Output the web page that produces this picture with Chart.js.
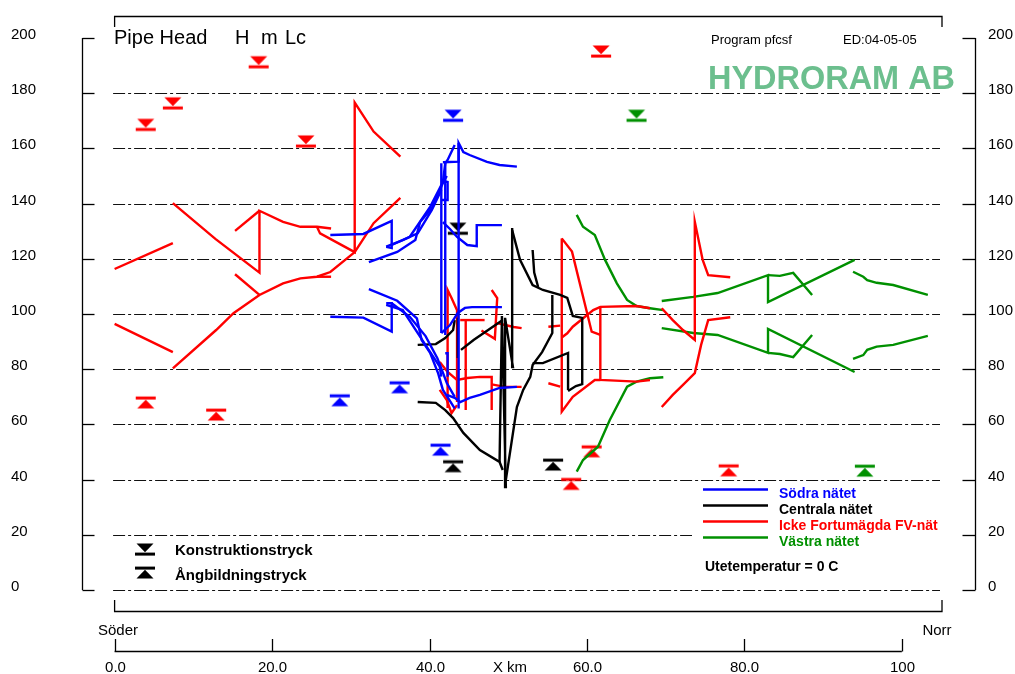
<!DOCTYPE html>
<html>
<head>
<meta charset="utf-8">
<script src="https://cdn.jsdelivr.net/npm/chart.js@4/dist/chart.umd.min.js"></script>
<style>
html,body{margin:0;padding:0;background:#fff;}
#wrap{width:1015px;height:674px;position:relative;}
canvas{display:block;}
</style>
</head>
<body>
<div id="wrap"><canvas id="c" width="1015" height="674"></canvas></div>
<script>
// ---------- axis ticks ----------
const xTicks = [0, 20, 40, 60, 80, 100];
const xTickLabels = ['0.0', '20.0', '40.0', '60.0', '80.0', '100'];
const yTicks = [0, 20, 40, 60, 80, 100, 120, 140, 160, 180, 200];
const yGridValues = [0, 20, 40, 60, 80, 100, 120, 140, 160, 180];

// ---------- series (x = km, y = m Lc) ----------
const sodraLines = [
  [[27.4,128.6],[31.6,129.0],[35.2,133.7],[35.2,123.9],[34.5,124.3]],
  [[32.3,118.8],[35.9,122.5],[38.2,126.8],[38.8,133.3],[40.3,138.4],[41.7,147.5],[42.2,150.0]],
  [[34.5,124.4],[36.6,126.8],[38.5,129.2],[40.3,137.7],[41.5,144.9]],
  [[35.2,125.0],[37.5,128.0],[40.1,138.9],[41.7,147.8],[42.0,154.6],[42.3,155.8],[43.2,161.2]],
  [[41.7,155.0],[43.7,155.2],[43.7,162.0],[44.3,158.7],[45.1,157.6],[47.3,155.1],[48.9,154.0],[51.1,153.4]],
  [[41.5,141.3],[42.3,141.3],[42.3,147.8],[41.7,148.2]],
  [[41.7,133.3],[42.6,130.8],[43.5,127.9],[44.8,125.0],[46.0,124.6],[46.0,132.2],[49.2,132.2]],
  [[41.5,154.6],[41.5,93.1]],
  [[42.0,154.6],[42.0,92.4]],
  [[43.7,162.0],[43.7,65.8]],
  [[27.4,99.0],[31.6,98.7],[35.2,93.6],[35.2,103.9],[34.5,103.9]],
  [[32.3,109.0],[35.9,104.8],[38.4,98.4],[39.0,90.6],[40.1,85.8],[41.1,78.5],[41.7,72.5],[43.2,65.8]],
  [[34.5,103.3],[36.6,101.4],[38.8,91.8],[41.3,80.9],[41.5,77.3]],
  [[35.2,103.9],[37.5,99.0],[39.5,92.0],[41.0,84.0],[42.2,75.0],[43.2,70.0]],
  [[41.5,93.1],[42.6,96.0],[43.6,100.4],[44.5,102.2],[45.4,102.5],[49.2,102.5]],
  [[42.0,85.8],[42.3,85.8],[42.3,77.3]],
  [[42.2,70.7],[43.2,69.6],[43.9,68.1],[45.1,69.6],[46.4,70.7],[48.9,73.2],[51.1,73.6]]
];
const centralaLines = [
  [[38.5,88.8],[40.8,89.1],[42.0,91.3],[43.0,94.2],[43.2,97.8]],
  [[43.6,98.6],[43.6,84.1]],
  [[44.0,87.0],[45.6,90.6],[49.3,97.8]],
  [[38.5,68.1],[40.8,67.8],[42.0,65.2],[43.0,62.3],[44.3,56.9],[46.4,50.7],[48.9,46.4],[49.3,43.5]],
  [[48.9,46.4],[49.2,99.3],[49.7,37.3],[49.6,98.6],[50.6,80.8],[50.5,131.2]],
  [[50.5,130.4],[51.5,119.6],[53.1,110.5],[54.4,108.7],[56.6,106.9],[57.5,105.8],[58.2,99.3],[59.4,98.6],[59.4,74.6],[58.6,73.9],[57.6,72.1]],
  [[53.1,123.2],[53.3,115.0],[53.8,109.8]],
  [[49.7,39.9],[51.1,66.3],[51.9,72.5],[52.8,77.2],[53.1,81.5],[54.3,86.2],[55.6,93.1],[55.6,106.9]],
  [[53.1,82.2],[54.4,82.2],[57.6,85.9],[57.6,72.5]]
];
const ickeLines = [
  [[0,116.3],[7.4,125.7]],
  [[0,96.4],[7.4,86.2]],
  [[7.4,140.2],[12.8,127.2],[18.4,115.0],[18.4,137.4],[21.4,133.4],[23.6,131.6],[25.7,131.6],[27.5,131.0]],
  [[15.3,130.1],[18.4,137.4]],
  [[25.7,131.6],[26.1,129.2],[30.5,122.4],[30.5,176.6],[32.9,166.1],[36.3,157.0]],
  [[30.5,122.4],[32.9,132.9],[36.3,142.1]],
  [[7.4,80.3],[12.9,94.2],[15.1,100.3],[18.4,106.9],[21.4,111.1],[23.6,112.9],[25.7,113.5],[27.4,115.2],[30.5,122.4]],
  [[25.7,113.5],[27.5,113.5]],
  [[15.3,114.4],[18.4,106.9]],
  [[42.3,65.9],[42.3,108.7],[42.8,105.8],[43.5,101.4],[43.5,68.1]],
  [[43.9,97.8],[47.0,97.8]],
  [[41.3,82.6],[42.3,79.0],[43.5,76.1],[44.8,76.8],[46.4,77.2],[47.9,77.2],[47.9,65.2]],
  [[47.9,108.7],[48.6,105.8],[48.3,91.0],[46.6,94.0]],
  [[48.6,96.7],[49.6,96.0],[50.7,95.3],[51.7,94.9]],
  [[41.3,72.5],[42.2,68.8],[42.8,64.1],[43.5,67.0]],
  [[44.6,97.8],[44.6,65.2]],
  [[47.9,74.5],[49.6,73.6],[51.7,73.6]],
  [[55.1,95.4],[56.6,95.8]],
  [[55.1,74.9],[56.6,73.7]],
  [[56.8,127.4],[58.1,122.6],[60.6,93.6],[61.7,92.4]],
  [[56.8,127.4],[56.8,64.6],[58.2,70.0],[61.0,76.1],[61.7,76.1]],
  [[56.8,91.5],[57.5,93.0],[58.2,95.4],[60.8,101.4],[61.7,102.6],[66.3,102.9],[68.0,102.1]],
  [[61.7,102.6],[61.7,76.1],[66.3,75.5],[68.0,76.1]],
  [[69.5,102.1],[70.9,97.8],[72.2,94.2],[73.7,90.6],[73.7,133.4],[74.7,119.6],[75.4,114.1],[78.2,113.3]],
  [[69.5,66.3],[70.9,70.7],[72.2,74.3],[73.7,78.6],[74.5,88.8],[75.4,97.8],[78.2,98.8]]
];
const vastraLines = [
  [[58.7,135.9],[59.5,131.6],[61.0,128.6],[62.3,119.6],[63.8,111.1],[65.1,105.1],[66.3,102.9],[68.0,102.1],[69.7,101.4]],
  [[58.7,42.9],[59.5,47.1],[61.4,51.9],[62.9,61.6],[65.1,73.7],[66.3,75.5],[68.0,76.7],[69.7,77.1]],
  [[69.5,104.7],[73.5,106.2],[76.6,107.6],[83.0,114.1],[83.0,104.3],[94.0,119.6]],
  [[83.0,114.1],[84.5,113.8],[86.2,114.9],[88.6,106.9]],
  [[69.5,94.9],[73.5,93.1],[76.6,92.4],[83.0,85.9],[83.0,94.6],[94.0,79.0]],
  [[83.0,85.9],[84.5,85.5],[86.2,84.4],[88.6,92.4]],
  [[93.8,115.3],[95.1,113.5],[95.6,112.3],[96.8,111.3],[98.9,110.5],[103.3,106.9]],
  [[93.8,83.7],[95.1,85.1],[95.6,87.0],[96.8,88.2],[98.9,88.8],[103.3,92.1]]
];

// Konstruktionstryck (down) and Ångbildningstryck (up) markers
const sodraKonstr = [[43.0,170.2]];
const sodraAngb = [[28.6,70.4],[36.2,75.1],[41.4,52.5]];
const centralaKonstr = [[43.6,129.3]];
const centralaAngb = [[43.0,46.5],[55.7,47.1]];
const ickeKonstr = [[3.95,166.9],[7.4,174.7],[18.3,189.6],[24.3,160.9],[61.8,193.5]];
const ickeAngb = [[3.95,69.6],[12.9,65.2],[58.0,40.1],[60.6,51.9],[78.0,45.0]];
const vastraKonstr = [[66.3,170.2]];
const vastraAngb = [[95.3,44.9]];

const networkNames = ['Södra nätet', 'Centrala nätet', 'Icke Fortumägda FV-nät', 'Västra nätet'];
const networkColors = ['#0000ff', '#000000', '#ff0000', '#009000'];

// ---------- build ----------
function makeSymbol(color, dir) {
  const c = document.createElement('canvas');
  c.width = 22; c.height = 24;
  const g = c.getContext('2d');
  g.fillStyle = color;
  g.fillRect(1, 10.6, 20, 3);
  g.beginPath();
  if (dir === 'down') { g.moveTo(2.5, 1.5); g.lineTo(19.5, 1.5); g.lineTo(11, 10.2); }
  else { g.moveTo(11, 13.8); g.lineTo(19.5, 22.5); g.lineTo(2.5, 22.5); }
  g.closePath(); g.fill();
  return c;
}
const toXY = arr => arr.map(p => ({x: p[0], y: p[1]}));
const datasets = [];
[sodraLines, centralaLines, ickeLines, vastraLines].forEach((lines, i) => {
  lines.forEach(seg => datasets.push({
    data: toXY(seg), showLine: true, borderColor: networkColors[i], borderWidth: 2.4,
    pointRadius: 0, pointHoverRadius: 0, fill: false, tension: 0, clip: false
  }));
});
[[sodraKonstr, sodraAngb], [centralaKonstr, centralaAngb], [ickeKonstr, ickeAngb], [vastraKonstr, vastraAngb]].forEach((pair, i) => {
  datasets.push({data: toXY(pair[0]), showLine: false, pointStyle: makeSymbol(networkColors[i], 'down'), pointRadius: 5, clip: false});
  datasets.push({data: toXY(pair[1]), showLine: false, pointStyle: makeSymbol(networkColors[i], 'up'), pointRadius: 5, clip: false});
});

const FONT = '"Liberation Sans", Arial, Helvetica, sans-serif';
const framePlugin = {
  id: 'frame',
  beforeDatasetsDraw(chart) {
    const {ctx, chartArea: a, scales: {y}} = chart;
    ctx.save();
    ctx.strokeStyle = '#111'; ctx.lineWidth = 1.1;
    ctx.setLineDash([12, 3, 3, 3]);
    yGridValues.forEach(v => {
      const py = Math.round(y.getPixelForValue(v)) + 0.5;
      ctx.beginPath(); ctx.moveTo(a.left - 1.5, py); ctx.lineTo(a.right - 2, py); ctx.stroke();
    });
    ctx.setLineDash([]);
    ctx.fillStyle = '#fff';
    ctx.fillRect(692, 483, 252, 102);
    ctx.restore();
  },
  afterDatasetsDraw(chart) {
    const {ctx, chartArea: a, scales: {x, y}} = chart;
    ctx.save();
    ctx.strokeStyle = '#000'; ctx.fillStyle = '#000'; ctx.lineWidth = 1.3;
    const yTop = y.getPixelForValue(200), yBot = y.getPixelForValue(0);
    const lx = 82.5, rx = 975.5;
    ctx.beginPath(); ctx.moveTo(lx, yTop); ctx.lineTo(lx, yBot); ctx.stroke();
    ctx.beginPath(); ctx.moveTo(rx, yTop); ctx.lineTo(rx, yBot); ctx.stroke();
    ctx.font = '15px ' + FONT; ctx.textBaseline = 'alphabetic'; ctx.textAlign = 'left';
    yTicks.forEach(v => {
      const py = Math.round(y.getPixelForValue(v)) + 0.5;
      ctx.beginPath(); ctx.moveTo(lx, py); ctx.lineTo(lx + 12, py); ctx.stroke();
      ctx.beginPath(); ctx.moveTo(rx - 13, py); ctx.lineTo(rx, py); ctx.stroke();
      ctx.fillText(String(v), 11, py + 0.5);
      ctx.fillText(String(v), 988, py + 0.5);
    });
    // top bracket
    ctx.beginPath(); ctx.moveTo(a.left, 27); ctx.lineTo(a.left, 16.5); ctx.lineTo(a.right, 16.5); ctx.lineTo(a.right, 27); ctx.stroke();
    // Söder / Norr bracket
    ctx.beginPath(); ctx.moveTo(a.left, 600); ctx.lineTo(a.left, 611.5); ctx.lineTo(a.right, 611.5); ctx.lineTo(a.right, 600); ctx.stroke();
    ctx.textAlign = 'center';
    ctx.fillText('Söder', 118, 635);
    ctx.fillText('Norr', 937, 635);
    // x axis
    const x0 = x.getPixelForValue(0), x100 = x.getPixelForValue(100);
    ctx.beginPath(); ctx.moveTo(x0, 651.5); ctx.lineTo(x100, 651.5); ctx.stroke();
    xTicks.forEach((v, i) => {
      const px = Math.round(x.getPixelForValue(v)) + 0.5;
      ctx.beginPath(); ctx.moveTo(px, 639); ctx.lineTo(px, 651.5); ctx.stroke();
      ctx.fillText(xTickLabels[i], px, 672);
    });
    ctx.fillText('X km', 510, 672);
    // title
    ctx.textAlign = 'left';
    ctx.font = '20px ' + FONT;
    ctx.fillText('Pipe Head', 114, 44);
    ctx.fillText('H', 235, 44);
    ctx.fillText('m', 261, 44);
    ctx.fillText('Lc', 285, 44);
    ctx.font = '13px ' + FONT;
    ctx.fillText('Program pfcsf', 711, 44);
    ctx.fillText('ED:04-05-05', 843, 44);
    ctx.fillStyle = '#6cbf8e';
    ctx.font = 'bold 33px ' + FONT;
    ctx.fillText('HYDRORAM AB', 708, 89, 247);
    // network legend
    ctx.lineWidth = 2.6;
    ctx.font = 'bold 14px ' + FONT;
    networkNames.forEach((n, i) => {
      const ly = 489.5 + i * 16;
      ctx.strokeStyle = networkColors[i];
      ctx.beginPath(); ctx.moveTo(703, ly); ctx.lineTo(768, ly); ctx.stroke();
      ctx.fillStyle = networkColors[i];
      ctx.fillText(n, 779, ly + 8);
    });
    ctx.fillStyle = '#000';
    ctx.fillText('Utetemperatur = 0 C', 705, 571);
    // symbol legend
    ctx.font = 'bold 15px ' + FONT;
    const sd = makeSymbol('#000', 'down'), su = makeSymbol('#000', 'up');
    ctx.drawImage(sd, 145 - 11, 554 - 12);
    ctx.drawImage(su, 145 - 11, 568 - 12);
    ctx.fillText('Konstruktionstryck', 175, 555);
    ctx.fillText('Ångbildningstryck', 175, 580);
    ctx.restore();
  }
};

new Chart(document.getElementById('c'), {
  type: 'scatter',
  data: {datasets},
  options: {
    responsive: false,
    animation: false,
    events: [],
    layout: {padding: {left: 114.6, right: 73, top: 38, bottom: 84}},
    scales: {
      x: {type: 'linear', min: 0, max: 105.1, display: false},
      y: {type: 'linear', min: 0, max: 200, display: false}
    },
    plugins: {legend: {display: false}, tooltip: {enabled: false}}
  },
  plugins: [framePlugin]
});
</script>
</body>
</html>
